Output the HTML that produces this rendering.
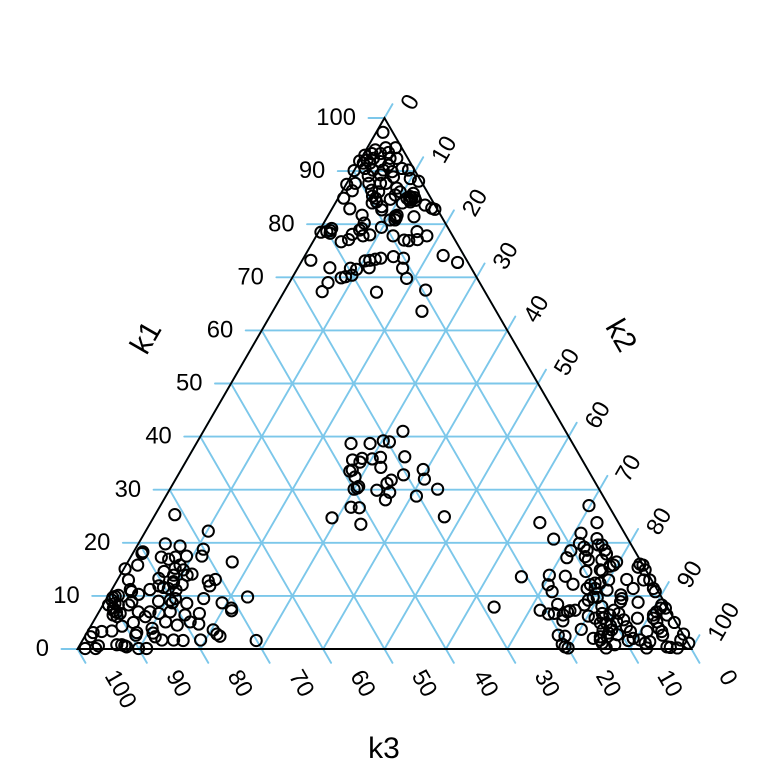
<!DOCTYPE html>
<html>
<head>
<meta charset="utf-8">
<title>Ternary plot</title>
<style>
html,body{margin:0;padding:0;background:#fff;width:768px;height:768px;overflow:hidden}
svg{display:block}
text{font-family:"Liberation Sans",Arial,sans-serif;fill:#000}
.tick-label{font-size:23.8px}
.axis-title{font-size:30px}
</style>
</head>
<body>
<svg id="chart" width="768" height="768" viewBox="0 0 768 768" xmlns="http://www.w3.org/2000/svg">
<rect width="768" height="768" fill="#fff"/>
<g id="grid"></g>
<g id="points"></g>
<g id="frame"></g>
<g id="labels"></g>
<text class="axis-title" text-anchor="middle" transform="translate(145 337) rotate(-60)" dy="0.36em">k1</text>
<text class="axis-title" text-anchor="middle" transform="translate(622 335) rotate(60)" dy="0.36em">k2</text>
<text class="axis-title" text-anchor="middle" x="384" y="758">k3</text>
</svg>
<script>
// Axis ticks
const tickValues = [0,10,20,30,40,50,60,70,80,90,100];

// Series values: k1 and k2 per cluster (k3 = 100 - k1 - k2)
const topK1 = [97.3,94.4,94.4,94.0,93.0,93.3,93.5,93.3,91.9,92.1,92.4,92.4,92.4,91.5,91.5,91.8,91.1,90.1,90.5,90.2,89.9,90.5,90.2,88.1,88.6,89.3,88.9,87.5,86.3,87.7,87.7,87.7,86.4,86.1,86.8,86.1,84.9,84.9,84.7,85.5,84.9,85.8,84.2,84.9,84.5,83.6,83.0,82.8,82.9,81.7,84.2,83.3,81.5,81.2,80.8,81.7,81.4,80.8,82.7,79.4,80.2,79.2,79.2,78.8,78.3,78.5,78.6,78.9,78.1,77.8,78.0,76.7,77.1,77.8,78.6,77.8,77.0,76.9,77.1,73.2,74.1,72.8,73.9,73.6,73.6,73.4,73.2,73.1,71.8,71.7,69.8,71.5,71.7,70.4,71.8,69.9,70.1,69.0,67.3,67.2,67.6,63.6,89.1,90.2,87.7,84.0,84.0,85.2,85.0,84.6,85.3];
const topK2 = [1.1,3.0,4.6,1.5,0.3,1.3,3.9,2.7,0,1.1,2.0,4.7,5.8,0.8,1.9,3.4,5.1,0,1.6,4.7,6.3,7.6,8.8,11.5,9.9,4.7,7.0,0.1,1.6,1.4,3.6,5.5,4.7,6.0,8.6,9.5,0.9,6.1,8.6,9.0,11.2,11.8,12.1,12.0,12.8,14.8,16.2,16.8,2.9,5.5,6.6,7.9,11.0,11.3,11.3,11.2,14.1,10.5,8.2,9.8,6.6,6.7,1.8,1.8,2.0,0.4,1.3,6.5,5.7,7.6,8.6,4.6,5.6,12.5,16.0,18.0,14.7,15.5,16.8,1.4,22.5,25.5,14.5,16.3,12.6,11.8,11.0,10.3,11.6,17.1,18.7,9.7,8.6,9.5,5.2,8.0,8.6,6.3,6.2,15.1,22.9,24.3,2.8,3.0,6.4,10.9,6.0,11.6,12.4,11.8,5.4];

const midK1 = [41.0,38.7,38.7,39.2,39.0,36.2,35.6,35.9,35.2,35.8,36.1,34.2,33.7,33.5,32.4,33.8,32.0,32.8,31.8,31.2,30.6,30.3,30.1,29.9,29.5,30.1,28.1,28.8,26.7,26.6,24.7,24.9,23.5];
const midK2 = [32.5,25.2,28.3,30.2,31.3,35.2,27.0,28.4,28.4,30.1,31.3,32.3,27.9,27.6,29.0,39.4,40.5,36.7,35.2,34.8,30.5,30.4,30.0,33.8,36.1,43.6,36.1,40.8,31.2,32.6,29.1,47.3,34.4];

const leftK1 = [25.3,19.8,19.4,18.3,18.0,15.8,17.3,16.9,17.3,15.1,13.0,14.6,13.9,13.3,11.2,11.2,10.8,10.3,11.9,11.6,11.4,12.4,11.1,9.0,9.2,9.5,9.7,9.2,8.3,8.6,7.7,8.3,6.4,6.1,6.7,8.3,8.9,7.0,7.0,6.1,6.7,5.1,5.0,4.3,3.4,3.3,3.1,2.3,0.1,0.1,0.6,0.8,0.8,0.6,0.4,0.1,0.1,2.6,3.1,3.9,3.0,2.3,1.7,1.7,4.5,9.9,10.1,7.2,6.9];
const leftK2 = [3.2,4.4,7.0,1.5,1.5,1.9,5.0,6.4,7.3,0.2,1.8,6.8,8.7,6.6,6.2,3.0,3.4,4.8,7.3,8.2,9.1,9.4,10.5,8.7,10.5,11.2,0.9,1.0,0.9,1.8,2.0,2.5,2.6,3.4,3.6,4.2,4.4,6.4,8.3,8.0,9.9,11.8,6.6,5.1,3.9,2.3,1.0,1.0,1.2,2.9,3.1,6.0,6.8,7.4,7.8,9.9,11.2,8.2,8.1,10.2,10.8,11.5,12.9,14.8,14.0,1.2,1.6,2.3,2.9];

const leftEastK1 = [22.2,18.8,17.5,17.5,16.4,15.2,15.8,14.9,14.1,13.9,12.1,12.7,13.1,12.8,11.9,9.8,9.5,8.6,8.7,7.7,7.2,6.7,6.4,5.1,4.7,3.6,2.8,2.4,1.6,1.7,1.6,7.0,8.7];
const leftEastK2 = [10.2,11.1,11.5,9.0,17.0,8.3,8.8,9.8,11.6,10.9,11.0,9.3,15.9,14.9,15.6,22.8,15.8,13.5,19.2,21.2,21.5,16.5,14.3,15.8,17.4,20.3,21.3,22.0,28.3,19.2,16.4,11.6,11.1];

const rightWestK1 = [27.0,23.8,20.7,23.8,21.8,20.8,19.9,18.5,17.2,19.2,18.6,17.4,16.8,19.6,16.8,13.6,7.9,13.9,12.1,10.8,13.7,12.2,14.6,12.1,11.4,11.4,9.8,8.3,9.2,7.3,6.6,6.7,8.4,6.4,7.0,7.2,7.3,5.3,6.2,5.8,3.7,2.6,2.4,2.0,0.9,0.4,0.2,1.7,4.9,8.0,14.9,12.4];
const rightWestK2 = [69.8,63.4,67.2,72.7,71.1,74.2,71.8,71.1,71.1,72.9,73.7,74.0,74.8,75.0,77.0,65.5,63.9,69.9,70.6,71.9,72.6,74.6,75.5,77.5,77.3,78.6,79.1,78.4,78.6,71.7,73.4,74.3,74.0,75.9,76.3,76.6,77.4,76.4,80.1,81.4,80.2,77.0,78.2,83.0,78.5,79.2,79.8,84.3,82.7,81.4,77.7,78.9];

const rightEastK1 = [19.6,18.6,17.9,16.4,15.8,15.6,14.7,16.0,15.4,15.8,14.9,13.0,13.0,11.4,10.8,13.1,11.4,8.8,13.0,12.4,11.1,10.2,9.5,8.9,9.7,8.3,7.7,7.7,7.0,6.4,5.8,5.1,6.4,5.0,5.8,3.3,3.9,3.3,2.6,2.8,1.1,1.7,0.2,0.3,0.4,0.2,1.1,1.7,2.0,1.6,1.4,3.3,4.2,5.5,6.7,7.3,6.4,6.7,5.8,4.8,3.6,3.6,2.3,2.3,0.8,0.2,1.1,3.0,2.7,4.4,5.2];
const rightEastK2 = [75.6,76.6,77.2,79.6,79.4,78.9,78.1,83.6,83.6,84.2,85.0,85.7,86.7,88.1,88.7,82.9,84.8,86.9,80.0,78.1,80.7,83.4,83.9,84.0,79.8,91.0,91.1,91.9,90.8,90.6,90.9,91.8,92.8,94.7,88.3,93.5,92.7,91.1,94.0,97.3,99.0,97.4,97.6,96.4,95.8,92.6,91.9,90.8,89.5,88.9,92.5,88.4,87.3,86.2,84.8,83.7,83.5,82.1,82.7,83.8,85.2,83.8,84.0,85.1,87.1,86.0,84.9,85.0,86.6,84.6,85.2];

// Plot geometry
const X0 = 77.5, Y0 = 649, SIDE = 614, HEIGHT = 531, TICK = 16;
const SVGNS = "http://www.w3.org/2000/svg";
const GRID = "#7cc7ea";

function xPos(k1, k2) { return X0 + (k2 + k1 / 2) / 100 * SIDE; }
function yPos(k1) { return Y0 - k1 / 100 * HEIGHT; }

function line(parent, x1, y1, x2, y2, color, width) {
  const l = document.createElementNS(SVGNS, "line");
  l.setAttribute("x1", x1);
  l.setAttribute("y1", y1);
  l.setAttribute("x2", x2);
  l.setAttribute("y2", y2);
  l.setAttribute("stroke", color);
  l.setAttribute("stroke-width", width);
  l.setAttribute("stroke-linecap", "round");
  parent.appendChild(l);
  return l;
}

function label(parent, x, y, rot, anchor, str) {
  const t = document.createElementNS(SVGNS, "text");
  t.setAttribute("class", "tick-label");
  t.setAttribute("text-anchor", anchor);
  t.setAttribute("dy", "0.36em");
  t.setAttribute("transform", "translate(" + x + " " + y + ") rotate(" + rot + ")");
  t.textContent = str;
  parent.appendChild(t);
  return t;
}

const gridG = document.getElementById("grid");
const labelG = document.getElementById("labels");
const frameG = document.getElementById("frame");
const pointG = document.getElementById("points");
const dx = TICK * 0.5, dy = TICK * 0.866;

tickValues.forEach(function (v) {
  // k1: horizontal line from left edge to right edge, tick to the left
  const k1Line = line(gridG, xPos(v, 0) - TICK, yPos(v), xPos(v, 100 - v), yPos(v), GRID, 1.9);
  
  
  // k2: parallel to left edge, tick up-right beyond the right edge
  const k2Line = line(gridG, xPos(0, v), yPos(0), xPos(100 - v, v) + dx, yPos(100 - v) - dy, GRID, 1.9);
  
  
  // k3: parallel to right edge, tick down-right beyond the bottom edge
  const k3Line = line(gridG, xPos(0, 100 - v) + dx, yPos(0) + dy, xPos(100 - v, 0), yPos(100 - v), GRID, 1.9);
  
  

  const k1Lab = label(labelG, xPos(v, 0) - 28.5, yPos(v) - 1.5, 0, "end", String(v));
  
  
  const k2Lab = label(labelG, xPos(100 - v, v) + 21.5, yPos(100 - v) - 10.5, -60, "start", String(v));
  
  
  const k3Lab = label(labelG, xPos(0, 100 - v) + 34, yPos(0) + 22.5, 60, "start", String(v));
  
  
});

const frame = document.createElementNS(SVGNS, "polygon");


frame.setAttribute("points", xPos(0, 0) + "," + yPos(0) + " " + xPos(0, 100) + "," + yPos(0) + " " + xPos(100, 0) + "," + yPos(100));
frame.setAttribute("fill", "none");
frame.setAttribute("stroke", "#000");
frame.setAttribute("stroke-width", "1.9");
frameG.appendChild(frame);

const k1Values = [].concat(topK1, midK1, leftK1, leftEastK1, rightWestK1, rightEastK1);
const k2Values = [].concat(topK2, midK2, leftK2, leftEastK2, rightWestK2, rightEastK2);
k1Values.forEach(function (k1, i) {
  const c = document.createElementNS(SVGNS, "circle");
  
  
  c.setAttribute("cx", xPos(k1, k2Values[i]));
  c.setAttribute("cy", yPos(k1));
  c.setAttribute("r", "5.6");
  c.setAttribute("fill", "none");
  c.setAttribute("stroke", "#000");
  c.setAttribute("stroke-width", "2");
  pointG.appendChild(c);
});
</script>
</body>
</html>
